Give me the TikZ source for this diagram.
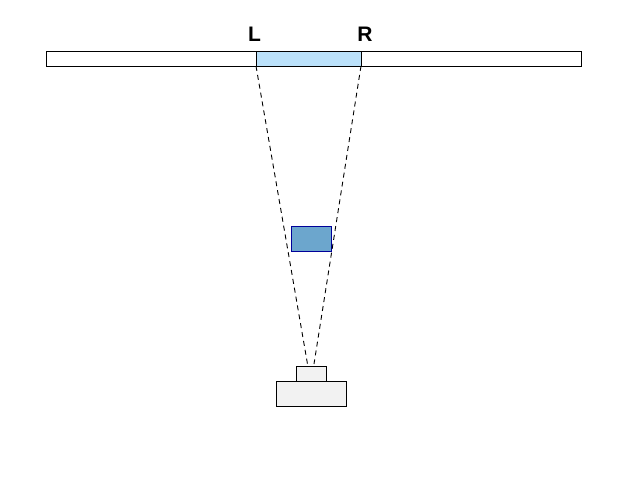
\documentclass[tikz,border=0pt]{standalone}
\usepackage{fontspec}
\setmainfont{Liberation Sans}
\begin{document}
\begin{tikzpicture}[x=1pt,y=-1pt,
  box/.style={draw=black,line width=0.9pt},
  ray/.style={draw=black,line width=0.9pt,dash pattern=on 5pt off 4pt},
  lbl/.style={font=\fontsize{21}{22}\selectfont\bfseries,inner sep=0pt}]
\useasboundingbox (0,0) rectangle (633,498);
\fill[white] (0,0) rectangle (633,498);
% bar
\draw[box,fill=white] (46,51) rectangle (581,66);
\draw[box,fill={rgb,255:red,187;green,225;blue,250}] (256,51) rectangle (361,66);
\coordinate (bl) at (256,66);
\coordinate (br) at (361,66);
\node[lbl] (L) at (254.5,34) {L};
\node[lbl] (R) at (365,34) {R};
% object
\draw[draw={rgb,255:red,0;green,0;blue,153},line width=0.9pt,fill={rgb,255:red,108;green,166;blue,205}] (291,226) rectangle (331,251);
% rays
\coordinate (cl) at (307.5,364);
\coordinate (cr) at (314,364);
\draw[ray] (bl) -- (cl);
\draw[ray] (br) -- (cr);
% camera
\draw[box,fill={rgb,255:red,242;green,242;blue,242}] (296,366) rectangle (326,381);
\draw[box,fill={rgb,255:red,242;green,242;blue,242}] (276,381) rectangle (346,406);
\end{tikzpicture}
\end{document}
